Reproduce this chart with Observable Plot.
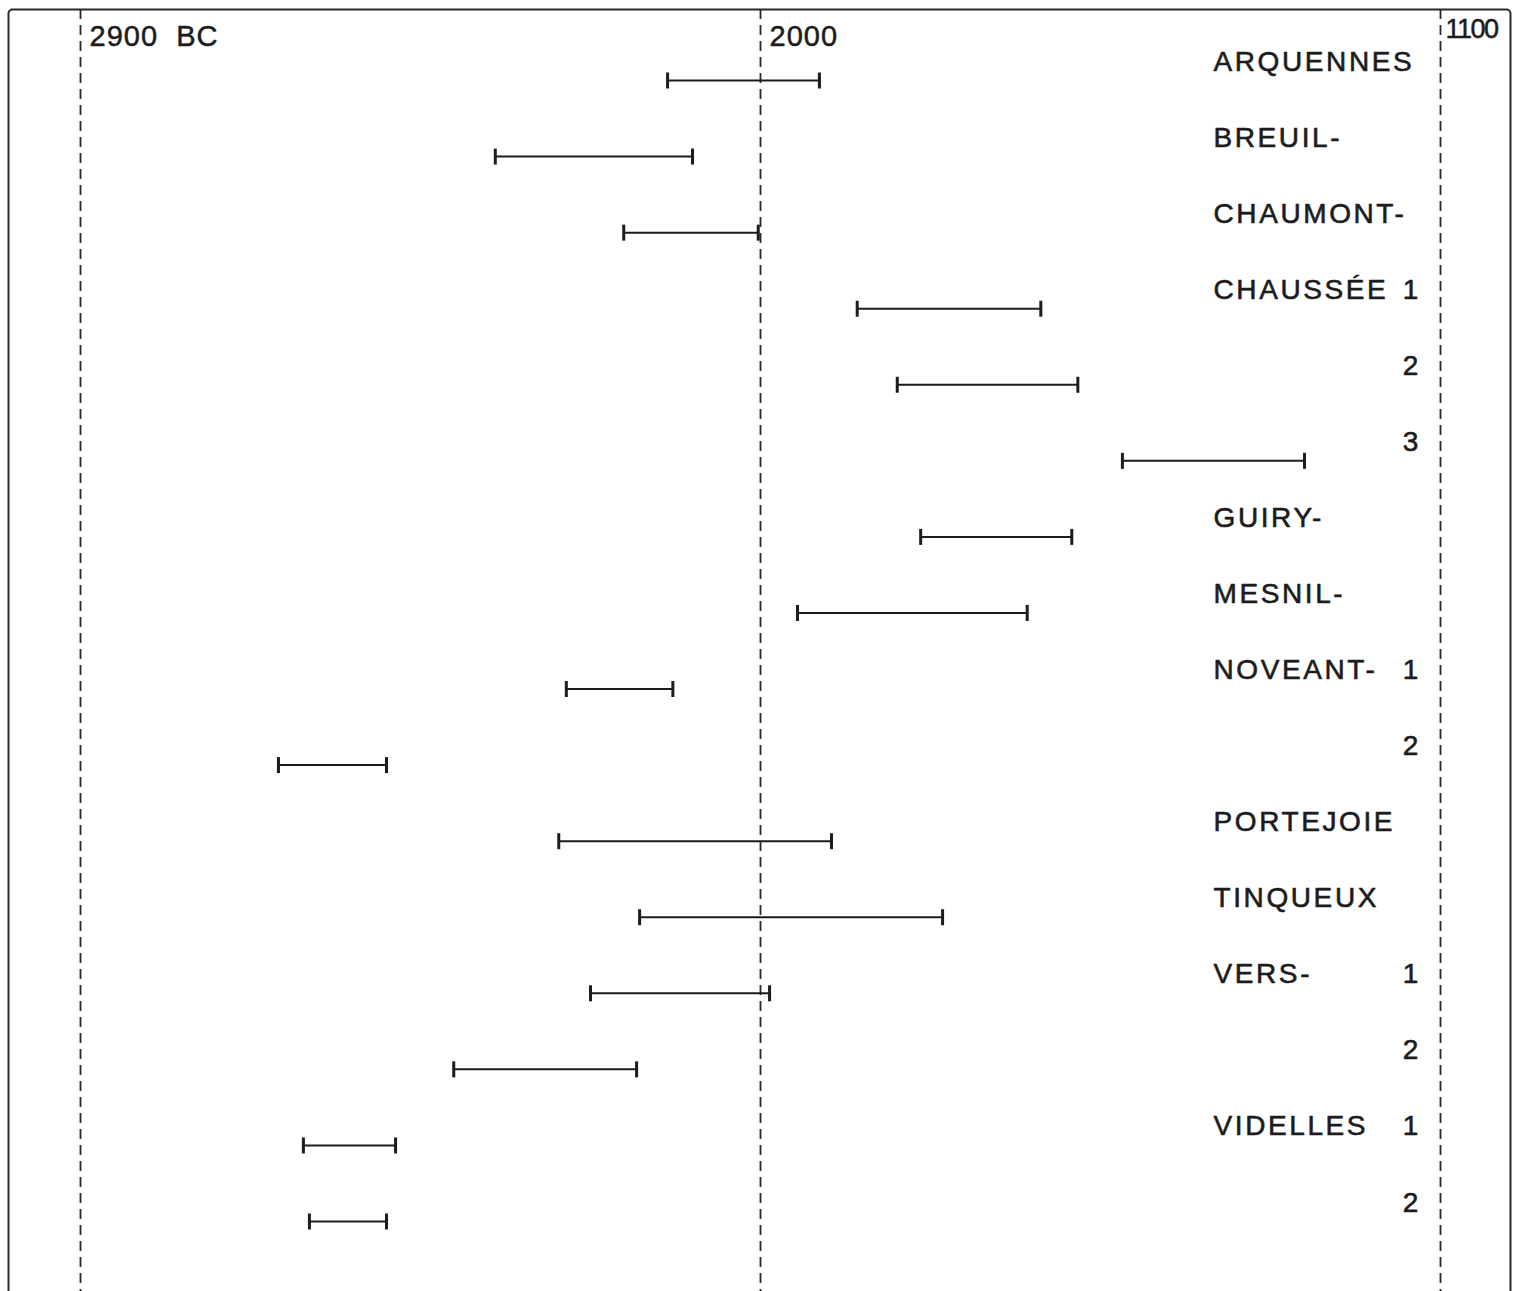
<!DOCTYPE html>
<html>
<head>
<meta charset="utf-8">
<script src="https://cdn.jsdelivr.net/npm/d3@7"></script>
<script src="https://cdn.jsdelivr.net/npm/@observablehq/plot@0.6"></script>
<style>
  html, body { margin: 0; padding: 0; background: #fff; }
  #chart { width: 1520px; height: 1291px; overflow: hidden; }
  g[aria-description="sites"] text { letter-spacing: 2.6px; }
  g[aria-description="refs"] text { letter-spacing: 1px; }
  g[aria-description="ref-right"] text { letter-spacing: -1.5px; }
</style>
</head>
<body>
<div id="chart"></div>
<script>
// Site names (one per row; blank rows continue the site above)
const siteLabels = ["ARQUENNES", "BREUIL-", "CHAUMONT-", "CHAUSSÉE", "", "", "GUIRY-", "MESNIL-",
  "NOVEANT-", "", "PORTEJOIE", "TINQUEUX", "VERS-", "", "VIDELLES", ""];
// Sample numbers for multi-date sites
const sampleNums = ["", "", "", "1", "2", "3", "", "", "1", "2", "", "", "1", "2", "1", "2"];
// Date ranges, years BC (older end, younger end)
const startBC = [2123, 2351, 2181, 1872, 1819, 1521, 1788, 1951, 2257, 2638, 2267, 2160, 2225, 2406, 2605, 2597];
const endBC   = [1922, 2090, 2003, 1629, 1580, 1280, 1588, 1647, 2116, 2495, 1906, 1759, 1988, 2164, 2483, 2495];
// Reference lines and their labels
const refYears  = [2900, 2000, 1100];
const refLabels = ["2900  BC", "2000", "1100"];

const rows = startBC.map((s, i) => ({row: i, start: s, end: endBC[i], site: siteLabels[i], num: sampleNums[i]}));
const ends = rows.flatMap(d => [{row: d.row, x: d.start}, {row: d.row, x: d.end}]);
const refs = refYears.map((y, i) => ({year: y, label: refLabels[i]}));

const vTick = {
  draw(context, size) {
    const h = Math.sqrt(size / Math.PI);
    context.moveTo(0, -h);
    context.lineTo(0, h);
  }
};

const ink = "#1c1c1c";
const font = "'Liberation Sans', Arial, Helvetica, sans-serif";

const chart = Plot.plot({
  width: 1520,
  height: 1291,
  marginLeft: 80,
  marginRight: 80,
  marginTop: 80,
  marginBottom: 70,
  style: {background: "#fff", fontFamily: font, color: ink},
  x: {domain: [2900, 1100], axis: null},
  y: {domain: [0, 15], reverse: true, axis: null},
  marks: [
    Plot.frame({stroke: "#2a2a2a", strokeWidth: 2, insetTop: -71, insetLeft: -72, insetRight: -70, insetBottom: -120, rx: 4}),
    Plot.ruleX(refs, {x: "year", stroke: "#2a2a2a", strokeWidth: 1.8, strokeDasharray: "10,6", insetTop: -71, insetBottom: -80}),
    Plot.text(refs.slice(0, 2), {x: "year", text: "label", frameAnchor: "top", textAnchor: "start", lineAnchor: "bottom",
      dx: 9, dy: -35, fontSize: 29, fill: ink, stroke: ink, strokeWidth: 0.5, ariaDescription: "refs"}),
    Plot.text(refs.slice(2), {x: "year", text: "label", frameAnchor: "top", textAnchor: "start", lineAnchor: "bottom",
      dx: 5, dy: -43, fontSize: 27, fill: ink, stroke: ink, strokeWidth: 0.5, ariaDescription: "ref-right"}),
    Plot.ruleY(rows, {y: "row", x1: "start", x2: "end", stroke: ink, strokeWidth: 2}),
    Plot.dot(ends, {x: "x", y: "row", symbol: vTick, r: 8, fill: "none", stroke: ink, strokeWidth: 3}),
    Plot.text(rows, {y: "row", text: "site", frameAnchor: "right", textAnchor: "start", lineAnchor: "bottom",
      dx: -227, dy: -10, fontSize: 28, fill: ink, stroke: ink, strokeWidth: 0.6, ariaDescription: "sites"}),
    Plot.text(rows, {y: "row", text: "num", frameAnchor: "right", textAnchor: "middle", lineAnchor: "bottom",
      dx: -30, dy: -10, fontSize: 28, fill: ink, stroke: ink, strokeWidth: 0.6})
  ]
});
document.getElementById("chart").appendChild(chart);
</script>
</body>
</html>
